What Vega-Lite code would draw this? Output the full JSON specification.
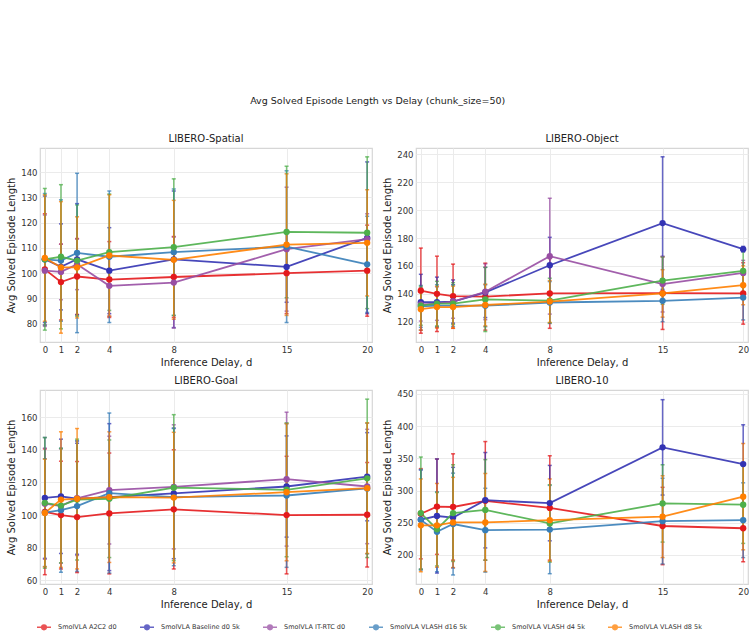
{
"$schema":"https://vega.github.io/schema/vega-lite/v6.json",
"padding":{"left":6,"top":95,"right":0,"bottom":0},
"title":{"text":"Avg Solved Episode Length vs Delay  (chunk_size=50)","fontSize":9.5,"fontWeight":"normal","color":"#222","anchor":"middle","offset":28},
"datasets":{"runs":[
{"task":"LIBERO-Spatial","method":"SmolVLA A2C2 d0","d":0,"mean":101.5,"lo":79.5,"hi":123.5},
{"task":"LIBERO-Spatial","method":"SmolVLA A2C2 d0","d":1,"mean":96.5,"lo":81.5,"hi":111.5},
{"task":"LIBERO-Spatial","method":"SmolVLA A2C2 d0","d":2,"mean":98.7,"lo":83.7,"hi":113.7},
{"task":"LIBERO-Spatial","method":"SmolVLA A2C2 d0","d":4,"mean":97.5,"lo":82.5,"hi":112.5},
{"task":"LIBERO-Spatial","method":"SmolVLA A2C2 d0","d":8,"mean":98.5,"lo":82.5,"hi":114.5},
{"task":"LIBERO-Spatial","method":"SmolVLA A2C2 d0","d":15,"mean":100,"lo":84,"hi":116},
{"task":"LIBERO-Spatial","method":"SmolVLA A2C2 d0","d":20,"mean":101,"lo":83,"hi":119},
{"task":"LIBERO-Spatial","method":"SmolVLA Baseline d0 5k","d":0,"mean":105.5,"lo":80.5,"hi":130.5},
{"task":"LIBERO-Spatial","method":"SmolVLA Baseline d0 5k","d":1,"mean":102.5,"lo":85.5,"hi":119.5},
{"task":"LIBERO-Spatial","method":"SmolVLA Baseline d0 5k","d":2,"mean":105.5,"lo":83.5,"hi":127.5},
{"task":"LIBERO-Spatial","method":"SmolVLA Baseline d0 5k","d":4,"mean":101,"lo":84,"hi":118},
{"task":"LIBERO-Spatial","method":"SmolVLA Baseline d0 5k","d":8,"mean":105.5,"lo":78.5,"hi":132.5},
{"task":"LIBERO-Spatial","method":"SmolVLA Baseline d0 5k","d":15,"mean":102.5,"lo":88.5,"hi":116.5},
{"task":"LIBERO-Spatial","method":"SmolVLA Baseline d0 5k","d":20,"mean":114,"lo":84,"hi":144},
{"task":"LIBERO-Spatial","method":"SmolVLA IT-RTC d0","d":0,"mean":101,"lo":79,"hi":123},
{"task":"LIBERO-Spatial","method":"SmolVLA IT-RTC d0","d":1,"mean":100.5,"lo":89.5,"hi":111.5},
{"task":"LIBERO-Spatial","method":"SmolVLA IT-RTC d0","d":2,"mean":103.5,"lo":93.5,"hi":113.5},
{"task":"LIBERO-Spatial","method":"SmolVLA IT-RTC d0","d":4,"mean":95,"lo":83,"hi":107},
{"task":"LIBERO-Spatial","method":"SmolVLA IT-RTC d0","d":8,"mean":96.3,"lo":78.3,"hi":114.3},
{"task":"LIBERO-Spatial","method":"SmolVLA IT-RTC d0","d":15,"mean":109.5,"lo":85,"hi":134},
{"task":"LIBERO-Spatial","method":"SmolVLA IT-RTC d0","d":20,"mean":113.5,"lo":103.5,"hi":123.5},
{"task":"LIBERO-Spatial","method":"SmolVLA VLASH d16 5k","d":0,"mean":105.5,"lo":79.5,"hi":131.5},
{"task":"LIBERO-Spatial","method":"SmolVLA VLASH d16 5k","d":1,"mean":105,"lo":81,"hi":129},
{"task":"LIBERO-Spatial","method":"SmolVLA VLASH d16 5k","d":2,"mean":108,"lo":76.5,"hi":139.5},
{"task":"LIBERO-Spatial","method":"SmolVLA VLASH d16 5k","d":4,"mean":106.5,"lo":80.5,"hi":132.5},
{"task":"LIBERO-Spatial","method":"SmolVLA VLASH d16 5k","d":8,"mean":108.3,"lo":83.3,"hi":133.3},
{"task":"LIBERO-Spatial","method":"SmolVLA VLASH d16 5k","d":15,"mean":110.5,"lo":80.5,"hi":140.5},
{"task":"LIBERO-Spatial","method":"SmolVLA VLASH d16 5k","d":20,"mean":103.5,"lo":84.5,"hi":122.5},
{"task":"LIBERO-Spatial","method":"SmolVLA VLASH d4 5k","d":0,"mean":105.5,"lo":77.5,"hi":133.5},
{"task":"LIBERO-Spatial","method":"SmolVLA VLASH d4 5k","d":1,"mean":106.5,"lo":78,"hi":135},
{"task":"LIBERO-Spatial","method":"SmolVLA VLASH d4 5k","d":2,"mean":105,"lo":83,"hi":127},
{"task":"LIBERO-Spatial","method":"SmolVLA VLASH d4 5k","d":4,"mean":108.3,"lo":85.3,"hi":131.3},
{"task":"LIBERO-Spatial","method":"SmolVLA VLASH d4 5k","d":8,"mean":110.3,"lo":83.3,"hi":137.3},
{"task":"LIBERO-Spatial","method":"SmolVLA VLASH d4 5k","d":15,"mean":116.3,"lo":90.3,"hi":142.3},
{"task":"LIBERO-Spatial","method":"SmolVLA VLASH d4 5k","d":20,"mean":116,"lo":86,"hi":146},
{"task":"LIBERO-Spatial","method":"SmolVLA VLASH d8 5k","d":0,"mean":106,"lo":81,"hi":131},
{"task":"LIBERO-Spatial","method":"SmolVLA VLASH d8 5k","d":1,"mean":102.3,"lo":76.3,"hi":128.3},
{"task":"LIBERO-Spatial","method":"SmolVLA VLASH d8 5k","d":2,"mean":102.3,"lo":82.3,"hi":122.3},
{"task":"LIBERO-Spatial","method":"SmolVLA VLASH d8 5k","d":4,"mean":107,"lo":83,"hi":131},
{"task":"LIBERO-Spatial","method":"SmolVLA VLASH d8 5k","d":8,"mean":105.3,"lo":81.8,"hi":128.8},
{"task":"LIBERO-Spatial","method":"SmolVLA VLASH d8 5k","d":15,"mean":111.3,"lo":83.3,"hi":139.3},
{"task":"LIBERO-Spatial","method":"SmolVLA VLASH d8 5k","d":20,"mean":112,"lo":91,"hi":133},
{"task":"LIBERO-Object","method":"SmolVLA A2C2 d0","d":0,"mean":142.3,"lo":111.8,"hi":172.8},
{"task":"LIBERO-Object","method":"SmolVLA A2C2 d0","d":1,"mean":140,"lo":113,"hi":167},
{"task":"LIBERO-Object","method":"SmolVLA A2C2 d0","d":2,"mean":138.3,"lo":115.3,"hi":161.3},
{"task":"LIBERO-Object","method":"SmolVLA A2C2 d0","d":4,"mean":138,"lo":114,"hi":162},
{"task":"LIBERO-Object","method":"SmolVLA A2C2 d0","d":8,"mean":140.3,"lo":115.3,"hi":165.3},
{"task":"LIBERO-Object","method":"SmolVLA A2C2 d0","d":15,"mean":140.5,"lo":114.5,"hi":166.5},
{"task":"LIBERO-Object","method":"SmolVLA A2C2 d0","d":20,"mean":140.3,"lo":118.3,"hi":162.3},
{"task":"LIBERO-Object","method":"SmolVLA Baseline d0 5k","d":0,"mean":134,"lo":114,"hi":154},
{"task":"LIBERO-Object","method":"SmolVLA Baseline d0 5k","d":1,"mean":134,"lo":116,"hi":152},
{"task":"LIBERO-Object","method":"SmolVLA Baseline d0 5k","d":2,"mean":134.5,"lo":119,"hi":150},
{"task":"LIBERO-Object","method":"SmolVLA Baseline d0 5k","d":4,"mean":141,"lo":123,"hi":159},
{"task":"LIBERO-Object","method":"SmolVLA Baseline d0 5k","d":8,"mean":160.5,"lo":140.5,"hi":180.5},
{"task":"LIBERO-Object","method":"SmolVLA Baseline d0 5k","d":15,"mean":190.7,"lo":143.2,"hi":238.2},
{"task":"LIBERO-Object","method":"SmolVLA Baseline d0 5k","d":20,"mean":172,"lo":170,"hi":174},
{"task":"LIBERO-Object","method":"SmolVLA IT-RTC d0","d":0,"mean":132.5,"lo":120.5,"hi":144.5},
{"task":"LIBERO-Object","method":"SmolVLA IT-RTC d0","d":1,"mean":133,"lo":121,"hi":145},
{"task":"LIBERO-Object","method":"SmolVLA IT-RTC d0","d":2,"mean":134.5,"lo":122.5,"hi":146.5},
{"task":"LIBERO-Object","method":"SmolVLA IT-RTC d0","d":4,"mean":141.5,"lo":121.5,"hi":161.5},
{"task":"LIBERO-Object","method":"SmolVLA IT-RTC d0","d":8,"mean":167,"lo":125.5,"hi":208.5},
{"task":"LIBERO-Object","method":"SmolVLA IT-RTC d0","d":15,"mean":147,"lo":127,"hi":167},
{"task":"LIBERO-Object","method":"SmolVLA IT-RTC d0","d":20,"mean":155,"lo":146,"hi":164},
{"task":"LIBERO-Object","method":"SmolVLA VLASH d16 5k","d":0,"mean":131,"lo":116,"hi":146},
{"task":"LIBERO-Object","method":"SmolVLA VLASH d16 5k","d":1,"mean":131.5,"lo":116.5,"hi":146.5},
{"task":"LIBERO-Object","method":"SmolVLA VLASH d16 5k","d":2,"mean":131.5,"lo":116.5,"hi":146.5},
{"task":"LIBERO-Object","method":"SmolVLA VLASH d16 5k","d":4,"mean":131.5,"lo":116.5,"hi":146.5},
{"task":"LIBERO-Object","method":"SmolVLA VLASH d16 5k","d":8,"mean":133.8,"lo":118.8,"hi":148.8},
{"task":"LIBERO-Object","method":"SmolVLA VLASH d16 5k","d":15,"mean":135,"lo":120,"hi":150},
{"task":"LIBERO-Object","method":"SmolVLA VLASH d16 5k","d":20,"mean":137.3,"lo":121.3,"hi":153.3},
{"task":"LIBERO-Object","method":"SmolVLA VLASH d4 5k","d":0,"mean":131.5,"lo":117.5,"hi":145.5},
{"task":"LIBERO-Object","method":"SmolVLA VLASH d4 5k","d":1,"mean":133,"lo":117,"hi":149},
{"task":"LIBERO-Object","method":"SmolVLA VLASH d4 5k","d":2,"mean":133,"lo":118,"hi":148},
{"task":"LIBERO-Object","method":"SmolVLA VLASH d4 5k","d":4,"mean":136,"lo":113,"hi":159},
{"task":"LIBERO-Object","method":"SmolVLA VLASH d4 5k","d":8,"mean":135.2,"lo":119.2,"hi":151.2},
{"task":"LIBERO-Object","method":"SmolVLA VLASH d4 5k","d":15,"mean":149.5,"lo":132.5,"hi":166.5},
{"task":"LIBERO-Object","method":"SmolVLA VLASH d4 5k","d":20,"mean":156.5,"lo":141.5,"hi":171.5},
{"task":"LIBERO-Object","method":"SmolVLA VLASH d8 5k","d":0,"mean":129,"lo":114,"hi":144},
{"task":"LIBERO-Object","method":"SmolVLA VLASH d8 5k","d":1,"mean":130.5,"lo":115.5,"hi":145.5},
{"task":"LIBERO-Object","method":"SmolVLA VLASH d8 5k","d":2,"mean":130.5,"lo":115.5,"hi":145.5},
{"task":"LIBERO-Object","method":"SmolVLA VLASH d8 5k","d":4,"mean":132,"lo":117,"hi":147},
{"task":"LIBERO-Object","method":"SmolVLA VLASH d8 5k","d":8,"mean":134.5,"lo":119.5,"hi":149.5},
{"task":"LIBERO-Object","method":"SmolVLA VLASH d8 5k","d":15,"mean":140.3,"lo":123.3,"hi":157.3},
{"task":"LIBERO-Object","method":"SmolVLA VLASH d8 5k","d":20,"mean":146.2,"lo":132.2,"hi":160.2},
{"task":"LIBERO-Goal","method":"SmolVLA A2C2 d0","d":0,"mean":102,"lo":63.5,"hi":140.5},
{"task":"LIBERO-Goal","method":"SmolVLA A2C2 d0","d":1,"mean":100,"lo":67,"hi":133},
{"task":"LIBERO-Goal","method":"SmolVLA A2C2 d0","d":2,"mean":98.8,"lo":64.8,"hi":132.8},
{"task":"LIBERO-Goal","method":"SmolVLA A2C2 d0","d":4,"mean":101,"lo":64,"hi":138},
{"task":"LIBERO-Goal","method":"SmolVLA A2C2 d0","d":8,"mean":103.5,"lo":67,"hi":140},
{"task":"LIBERO-Goal","method":"SmolVLA A2C2 d0","d":15,"mean":100,"lo":64,"hi":136},
{"task":"LIBERO-Goal","method":"SmolVLA A2C2 d0","d":20,"mean":100.2,"lo":68.2,"hi":132.2},
{"task":"LIBERO-Goal","method":"SmolVLA Baseline d0 5k","d":0,"mean":110.5,"lo":73.5,"hi":147.5},
{"task":"LIBERO-Goal","method":"SmolVLA Baseline d0 5k","d":1,"mean":111.5,"lo":76.5,"hi":146.5},
{"task":"LIBERO-Goal","method":"SmolVLA Baseline d0 5k","d":2,"mean":110,"lo":76,"hi":144},
{"task":"LIBERO-Goal","method":"SmolVLA Baseline d0 5k","d":4,"mean":111,"lo":66,"hi":156},
{"task":"LIBERO-Goal","method":"SmolVLA Baseline d0 5k","d":8,"mean":113.3,"lo":73.3,"hi":153.3},
{"task":"LIBERO-Goal","method":"SmolVLA Baseline d0 5k","d":15,"mean":117.5,"lo":86.5,"hi":148.5},
{"task":"LIBERO-Goal","method":"SmolVLA Baseline d0 5k","d":20,"mean":123.5,"lo":96.5,"hi":150.5},
{"task":"LIBERO-Goal","method":"SmolVLA IT-RTC d0","d":0,"mean":107,"lo":73,"hi":141},
{"task":"LIBERO-Goal","method":"SmolVLA IT-RTC d0","d":1,"mean":105.5,"lo":70.5,"hi":140.5},
{"task":"LIBERO-Goal","method":"SmolVLA IT-RTC d0","d":2,"mean":110.3,"lo":75.3,"hi":145.3},
{"task":"LIBERO-Goal","method":"SmolVLA IT-RTC d0","d":4,"mean":115.3,"lo":82.3,"hi":148.3},
{"task":"LIBERO-Goal","method":"SmolVLA IT-RTC d0","d":8,"mean":117.3,"lo":79.3,"hi":155.3},
{"task":"LIBERO-Goal","method":"SmolVLA IT-RTC d0","d":15,"mean":122,"lo":81,"hi":163},
{"task":"LIBERO-Goal","method":"SmolVLA IT-RTC d0","d":20,"mean":117.5,"lo":82.5,"hi":152.5},
{"task":"LIBERO-Goal","method":"SmolVLA VLASH d16 5k","d":0,"mean":101.5,"lo":68.5,"hi":134.5},
{"task":"LIBERO-Goal","method":"SmolVLA VLASH d16 5k","d":1,"mean":103,"lo":65,"hi":141},
{"task":"LIBERO-Goal","method":"SmolVLA VLASH d16 5k","d":2,"mean":105.5,"lo":65.5,"hi":145.5},
{"task":"LIBERO-Goal","method":"SmolVLA VLASH d16 5k","d":4,"mean":113.5,"lo":64.5,"hi":162.5},
{"task":"LIBERO-Goal","method":"SmolVLA VLASH d16 5k","d":8,"mean":111,"lo":69,"hi":153},
{"task":"LIBERO-Goal","method":"SmolVLA VLASH d16 5k","d":15,"mean":112,"lo":68,"hi":156},
{"task":"LIBERO-Goal","method":"SmolVLA VLASH d16 5k","d":20,"mean":116.3,"lo":76.3,"hi":156.3},
{"task":"LIBERO-Goal","method":"SmolVLA VLASH d4 5k","d":0,"mean":107.5,"lo":67.5,"hi":147.5},
{"task":"LIBERO-Goal","method":"SmolVLA VLASH d4 5k","d":1,"mean":105.8,"lo":70.8,"hi":140.8},
{"task":"LIBERO-Goal","method":"SmolVLA VLASH d4 5k","d":2,"mean":109.5,"lo":72.5,"hi":146.5},
{"task":"LIBERO-Goal","method":"SmolVLA VLASH d4 5k","d":4,"mean":110,"lo":74,"hi":146},
{"task":"LIBERO-Goal","method":"SmolVLA VLASH d4 5k","d":8,"mean":116.8,"lo":72.1,"hi":161.5},
{"task":"LIBERO-Goal","method":"SmolVLA VLASH d4 5k","d":15,"mean":115.5,"lo":74.5,"hi":156.5},
{"task":"LIBERO-Goal","method":"SmolVLA VLASH d4 5k","d":20,"mean":122.5,"lo":74,"hi":171},
{"task":"LIBERO-Goal","method":"SmolVLA VLASH d8 5k","d":0,"mean":101.3,"lo":68.3,"hi":134.3},
{"task":"LIBERO-Goal","method":"SmolVLA VLASH d8 5k","d":1,"mean":109.5,"lo":68,"hi":151},
{"task":"LIBERO-Goal","method":"SmolVLA VLASH d8 5k","d":2,"mean":110,"lo":67,"hi":153},
{"task":"LIBERO-Goal","method":"SmolVLA VLASH d8 5k","d":4,"mean":111,"lo":71,"hi":151},
{"task":"LIBERO-Goal","method":"SmolVLA VLASH d8 5k","d":8,"mean":110.7,"lo":70.7,"hi":150.7},
{"task":"LIBERO-Goal","method":"SmolVLA VLASH d8 5k","d":15,"mean":114,"lo":72,"hi":156},
{"task":"LIBERO-Goal","method":"SmolVLA VLASH d8 5k","d":20,"mean":116.5,"lo":76.5,"hi":156.5},
{"task":"LIBERO-10","method":"SmolVLA A2C2 d0","d":0,"mean":264,"lo":194,"hi":334},
{"task":"LIBERO-10","method":"SmolVLA A2C2 d0","d":1,"mean":275,"lo":201,"hi":349},
{"task":"LIBERO-10","method":"SmolVLA A2C2 d0","d":2,"mean":274.5,"lo":192,"hi":357},
{"task":"LIBERO-10","method":"SmolVLA A2C2 d0","d":4,"mean":284,"lo":192,"hi":376},
{"task":"LIBERO-10","method":"SmolVLA A2C2 d0","d":8,"mean":273,"lo":192,"hi":354},
{"task":"LIBERO-10","method":"SmolVLA A2C2 d0","d":15,"mean":245,"lo":185,"hi":305},
{"task":"LIBERO-10","method":"SmolVLA A2C2 d0","d":20,"mean":241.5,"lo":189.5,"hi":293.5},
{"task":"LIBERO-10","method":"SmolVLA Baseline d0 5k","d":0,"mean":255,"lo":178,"hi":332},
{"task":"LIBERO-10","method":"SmolVLA Baseline d0 5k","d":1,"mean":260.5,"lo":172,"hi":349},
{"task":"LIBERO-10","method":"SmolVLA Baseline d0 5k","d":2,"mean":258,"lo":180,"hi":336},
{"task":"LIBERO-10","method":"SmolVLA Baseline d0 5k","d":4,"mean":285,"lo":211,"hi":359},
{"task":"LIBERO-10","method":"SmolVLA Baseline d0 5k","d":8,"mean":280.5,"lo":222,"hi":339},
{"task":"LIBERO-10","method":"SmolVLA Baseline d0 5k","d":15,"mean":367,"lo":293,"hi":441},
{"task":"LIBERO-10","method":"SmolVLA Baseline d0 5k","d":20,"mean":341,"lo":280,"hi":402},
{"task":"LIBERO-10","method":"SmolVLA VLASH d16 5k","d":0,"mean":254.5,"lo":176.5,"hi":332.5},
{"task":"LIBERO-10","method":"SmolVLA VLASH d16 5k","d":1,"mean":236,"lo":174,"hi":298},
{"task":"LIBERO-10","method":"SmolVLA VLASH d16 5k","d":2,"mean":248,"lo":169,"hi":327},
{"task":"LIBERO-10","method":"SmolVLA VLASH d16 5k","d":4,"mean":238.5,"lo":173.5,"hi":303.5},
{"task":"LIBERO-10","method":"SmolVLA VLASH d16 5k","d":8,"mean":239.5,"lo":171,"hi":308},
{"task":"LIBERO-10","method":"SmolVLA VLASH d16 5k","d":15,"mean":252.5,"lo":186,"hi":319},
{"task":"LIBERO-10","method":"SmolVLA VLASH d16 5k","d":20,"mean":254,"lo":196,"hi":312},
{"task":"LIBERO-10","method":"SmolVLA VLASH d4 5k","d":0,"mean":265,"lo":178,"hi":352},
{"task":"LIBERO-10","method":"SmolVLA VLASH d4 5k","d":1,"mean":240,"lo":183,"hi":297},
{"task":"LIBERO-10","method":"SmolVLA VLASH d4 5k","d":2,"mean":265,"lo":190,"hi":340},
{"task":"LIBERO-10","method":"SmolVLA VLASH d4 5k","d":4,"mean":270,"lo":192,"hi":348},
{"task":"LIBERO-10","method":"SmolVLA VLASH d4 5k","d":8,"mean":249,"lo":189,"hi":309},
{"task":"LIBERO-10","method":"SmolVLA VLASH d4 5k","d":15,"mean":280,"lo":220,"hi":340},
{"task":"LIBERO-10","method":"SmolVLA VLASH d4 5k","d":20,"mean":278,"lo":218,"hi":338},
{"task":"LIBERO-10","method":"SmolVLA VLASH d8 5k","d":0,"mean":246,"lo":174,"hi":318},
{"task":"LIBERO-10","method":"SmolVLA VLASH d8 5k","d":1,"mean":246,"lo":181,"hi":311},
{"task":"LIBERO-10","method":"SmolVLA VLASH d8 5k","d":2,"mean":250.5,"lo":180.5,"hi":320.5},
{"task":"LIBERO-10","method":"SmolVLA VLASH d8 5k","d":4,"mean":250.5,"lo":174.5,"hi":326.5},
{"task":"LIBERO-10","method":"SmolVLA VLASH d8 5k","d":8,"mean":254,"lo":190,"hi":318},
{"task":"LIBERO-10","method":"SmolVLA VLASH d8 5k","d":15,"mean":259.5,"lo":196,"hi":323},
{"task":"LIBERO-10","method":"SmolVLA VLASH d8 5k","d":20,"mean":290.5,"lo":208,"hi":373}
]},
"data":{"name":"runs"},
"spacing":6,
"vconcat":[
{"bounds":"flush","spacing":44,"hconcat":[
{"title":{"text":"LIBERO-Spatial","fontWeight":"normal","fontSize":10},"width":332,"height":194,
 "transform":[{"filter":"datum.task === 'LIBERO-Spatial'"}],
 "encoding":{"x":{"field":"d","type":"quantitative","scale":{"domain":[-0.3,20.3],"nice":false},"axis":{"values":[0,1,2,4,8,15,20],"title":"Inference Delay, d"}},
  "color":{"field":"method","type":"nominal","scale":{"domain":["SmolVLA A2C2 d0","SmolVLA Baseline d0 5k","SmolVLA IT-RTC d0","SmolVLA VLASH d16 5k","SmolVLA VLASH d4 5k","SmolVLA VLASH d8 5k"],"range":["#e41a1c","#3333b3","#984ea3","#377eb8","#4daf4a","#ff7f00"]},
   "legend":{"orient":"none","direction":"horizontal","columns":6,"legendX":-4,"legendY":471,"title":null,"labelFontSize":6.5,"labelColor":"#333","symbolType":"M-1,0H1M-0.33,0A0.33,0.33 0 1,0 0.33,0A0.33,0.33 0 1,0 -0.33,0","symbolSize":196,"symbolStrokeWidth":1.5,"columnPadding":20,"labelOffset":6,"labelLimit":200}}},
 "layer":[
  {"mark":{"type":"errorbar","ticks":{"size":4},"thickness":1.5,"opacity":0.75},"encoding":{"y":{"field":"lo","type":"quantitative","scale":{"domain":[72.8,149.5],"nice":false,"zero":false},"axis":{"values":[80,90,100,110,120,130,140],"title":"Avg Solved Episode Length"}},"y2":{"field":"hi"}}},
  {"mark":{"type":"line","strokeWidth":1.8,"opacity":0.9},"encoding":{"y":{"field":"mean","type":"quantitative","axis":{"values":[80,90,100,110,120,130,140],"title":"Avg Solved Episode Length"}}}},
  {"mark":{"type":"point","filled":true,"size":40,"opacity":1},"encoding":{"y":{"field":"mean","type":"quantitative","axis":{"values":[80,90,100,110,120,130,140],"title":"Avg Solved Episode Length"}}}}
 ]},
{"title":{"text":"LIBERO-Object","fontWeight":"normal","fontSize":10},"width":332,"height":194,
 "transform":[{"filter":"datum.task === 'LIBERO-Object'"}],
 "encoding":{"x":{"field":"d","type":"quantitative","scale":{"domain":[-0.3,20.3],"nice":false},"axis":{"values":[0,1,2,4,8,15,20],"title":"Inference Delay, d"}},
  "color":{"field":"method","type":"nominal"}},
 "layer":[
  {"mark":{"type":"errorbar","ticks":{"size":4},"thickness":1.5,"opacity":0.75},"encoding":{"y":{"field":"lo","type":"quantitative","scale":{"domain":[105.5,244.5],"nice":false,"zero":false},"axis":{"values":[120,140,160,180,200,220,240],"title":"Avg Solved Episode Length"}},"y2":{"field":"hi"}}},
  {"mark":{"type":"line","strokeWidth":1.8,"opacity":0.9},"encoding":{"y":{"field":"mean","type":"quantitative","axis":{"values":[120,140,160,180,200,220,240],"title":"Avg Solved Episode Length"}}}},
  {"mark":{"type":"point","filled":true,"size":40,"opacity":1},"encoding":{"y":{"field":"mean","type":"quantitative","axis":{"values":[120,140,160,180,200,220,240],"title":"Avg Solved Episode Length"}}}}
 ]}
]},
{"bounds":"flush","spacing":44,"hconcat":[
{"title":{"text":"LIBERO-Goal","fontWeight":"normal","fontSize":10},"width":332,"height":194,
 "transform":[{"filter":"datum.task === 'LIBERO-Goal'"}],
 "encoding":{"x":{"field":"d","type":"quantitative","scale":{"domain":[-0.3,20.3],"nice":false},"axis":{"values":[0,1,2,4,8,15,20],"title":"Inference Delay, d"}},
  "color":{"field":"method","type":"nominal"}},
 "layer":[
  {"mark":{"type":"errorbar","ticks":{"size":4},"thickness":1.5,"opacity":0.75},"encoding":{"y":{"field":"lo","type":"quantitative","scale":{"domain":[57.8,176.6],"nice":false,"zero":false},"axis":{"values":[60,80,100,120,140,160],"title":"Avg Solved Episode Length"}},"y2":{"field":"hi"}}},
  {"mark":{"type":"line","strokeWidth":1.8,"opacity":0.9},"encoding":{"y":{"field":"mean","type":"quantitative","axis":{"values":[60,80,100,120,140,160],"title":"Avg Solved Episode Length"}}}},
  {"mark":{"type":"point","filled":true,"size":40,"opacity":1},"encoding":{"y":{"field":"mean","type":"quantitative","axis":{"values":[60,80,100,120,140,160],"title":"Avg Solved Episode Length"}}}}
 ]},
{"title":{"text":"LIBERO-10","fontWeight":"normal","fontSize":10},"width":332,"height":194,
 "transform":[{"filter":"datum.task === 'LIBERO-10'"}],
 "encoding":{"x":{"field":"d","type":"quantitative","scale":{"domain":[-0.3,20.3],"nice":false},"axis":{"values":[0,1,2,4,8,15,20],"title":"Inference Delay, d"}},
  "color":{"field":"method","type":"nominal"}},
 "layer":[
  {"mark":{"type":"errorbar","ticks":{"size":4},"thickness":1.5,"opacity":0.75},"encoding":{"y":{"field":"lo","type":"quantitative","scale":{"domain":[155,456],"nice":false,"zero":false},"axis":{"values":[200,250,300,350,400,450],"title":"Avg Solved Episode Length"}},"y2":{"field":"hi"}}},
  {"mark":{"type":"line","strokeWidth":1.8,"opacity":0.9},"encoding":{"y":{"field":"mean","type":"quantitative","axis":{"values":[200,250,300,350,400,450],"title":"Avg Solved Episode Length"}}}},
  {"mark":{"type":"point","filled":true,"size":40,"opacity":1},"encoding":{"y":{"field":"mean","type":"quantitative","axis":{"values":[200,250,300,350,400,450],"title":"Avg Solved Episode Length"}}}}
 ]}
]}
],
"config":{
 "font":"DejaVu Sans",
 "background":"white",
 "view":{"stroke":"#d6d6d6","strokeWidth":1.2},
 "axis":{"domain":false,"ticks":false,"grid":true,"gridColor":"#ebebeb","gridWidth":1,"labelFontSize":8.5,"labelColor":"#333","labelPadding":3,"labelOverlap":false,"titleFontSize":10,"titleFontWeight":"normal","titleColor":"#222","titlePadding":4},
 "title":{"fontSize":9.5,"fontWeight":"normal","color":"#222","offset":4}
}
}
